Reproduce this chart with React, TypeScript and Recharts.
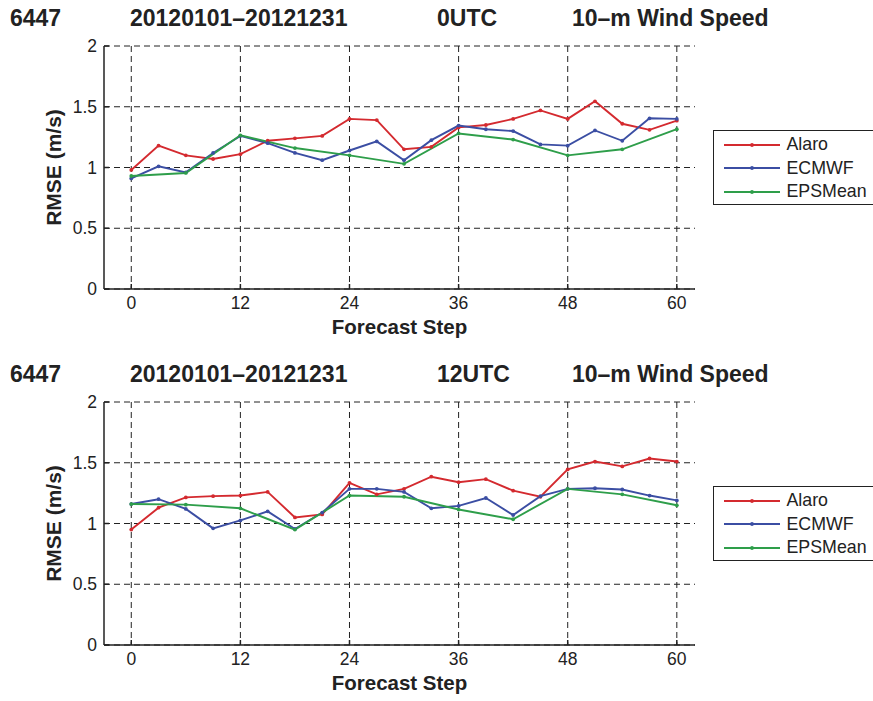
import React from 'react';
import { LineChart, Line, XAxis, YAxis, CartesianGrid } from 'recharts';

const STEPS = [0, 3, 6, 9, 12, 15, 18, 21, 24, 27, 30, 33, 36, 39, 42, 45, 48, 51, 54, 57, 60];
const X_TICKS = [0, 12, 24, 36, 48, 60];
const Y_TICKS = [0, 0.5, 1, 1.5, 2];

// 0 UTC run
const ALARO_00 = [0.98, 1.18, 1.10, 1.07, 1.11, 1.22, 1.24, 1.26, 1.40, 1.39, 1.15, 1.17, 1.33, 1.35, 1.40, 1.47, 1.40, 1.545, 1.36, 1.31, 1.385];
const ECMWF_00 = [0.91, 1.01, 0.96, 1.12, 1.26, 1.20, 1.12, 1.06, 1.14, 1.215, 1.06, 1.225, 1.345, 1.315, 1.30, 1.19, 1.18, 1.305, 1.22, 1.405, 1.40];
const EPS_00 = [0.93, 0.955, 1.265, 1.16, 1.10, 1.03, 1.28, 1.23, 1.10, 1.15, 1.315];

// 12 UTC run
const ALARO_12 = [0.95, 1.13, 1.215, 1.225, 1.23, 1.26, 1.05, 1.075, 1.335, 1.24, 1.285, 1.385, 1.34, 1.365, 1.27, 1.22, 1.445, 1.51, 1.47, 1.535, 1.51];
const ECMWF_12 = [1.16, 1.20, 1.12, 0.96, 1.025, 1.10, 0.955, 1.09, 1.285, 1.285, 1.26, 1.125, 1.145, 1.21, 1.07, 1.225, 1.285, 1.29, 1.28, 1.23, 1.19];
const EPS_12 = [1.16, 1.155, 1.125, 0.95, 1.23, 1.22, 1.115, 1.035, 1.285, 1.24, 1.15];

const SERIES = [
  { key: 'alaro', name: 'Alaro', color: '#d42a2f' },
  { key: 'ecmwf', name: 'ECMWF', color: '#3b4ea3' },
  { key: 'eps', name: 'EPSMean', color: '#2e9e4a' },
];

const FONT = '"Liberation Sans", Arial, Helvetica, sans-serif';
const INK = '#222';

const buildRows = (alaro: number[], ecmwf: number[], eps: number[]) =>
  STEPS.map((step, i) => ({
    step,
    alaro: alaro[i],
    ecmwf: ecmwf[i],
    eps: i % 2 === 0 ? eps[i / 2] : null,
  }));

const LegendBox = () => (
  <div
    style={{
      position: 'absolute',
      left: 713,
      top: 130,
      width: 175,
      height: 75,
      border: `1.5px solid ${INK}`,
      background: '#fff',
      boxSizing: 'border-box',
      fontFamily: FONT,
      fontSize: 17.8,
      color: INK,
      paddingTop: 2,
    }}
  >
    {SERIES.map((s) => (
      <div key={s.key} style={{ display: 'flex', alignItems: 'center', height: 23.5 }}>
        <svg width={63} height={10} style={{ marginLeft: 9.5, flex: 'none' }}>
          <line x1={0} y1={5} x2={56} y2={5} stroke={s.color} strokeWidth={1.8} />
          <circle cx={28} cy={5} r={1.9} fill={s.color} />
        </svg>
        <span style={{ whiteSpace: 'nowrap' }}>{s.name}</span>
      </div>
    ))}
  </div>
);

const Panel = ({ top, utc, rows }: { top: number; utc: string; rows: any[] }) => (
  <div style={{ position: 'absolute', left: 0, top, width: 873, height: 356 }}>
    <div
      style={{
        position: 'absolute',
        top: 5,
        left: 0,
        width: 873,
        fontFamily: FONT,
        fontWeight: 'bold',
        fontSize: 23,
        color: INK,
        whiteSpace: 'nowrap',
      }}
    >
      <span style={{ position: 'absolute', left: 10 }}>6447</span>
      <span style={{ position: 'absolute', left: 130 }}>20120101–20121231</span>
      <span style={{ position: 'absolute', left: 437 }}>{utc}</span>
      <span style={{ position: 'absolute', left: 572 }}>10–m Wind Speed</span>
    </div>
    <LineChart
      width={873}
      height={350}
      data={rows}
      margin={{ top: 46, right: 178, bottom: 11, left: 0 }}
      style={{ fontFamily: FONT }}
    >
      <CartesianGrid
        stroke={INK}
        strokeDasharray="6 4"
        strokeWidth={1}
        horizontalValues={Y_TICKS}
        verticalValues={X_TICKS}
      />
      <XAxis
        dataKey="step"
        type="number"
        domain={[-3, 62]}
        ticks={X_TICKS}
        height={50}
        stroke={INK}
        strokeWidth={1.5}
        tickSize={-5}
        tickMargin={13}
        tick={{ fill: INK, fontSize: 17.5 }}
        label={{
          value: 'Forecast Step',
          position: 'insideBottom',
          offset: 5,
          fill: INK,
          fontSize: 20.5,
          fontWeight: 'bold',
        }}
      />
      <XAxis
        xAxisId="top"
        orientation="top"
        type="number"
        domain={[-3, 62]}
        ticks={X_TICKS}
        height={0}
        stroke={INK}
        strokeWidth={1.5}
        tickSize={-5}
        tick={false}
      />
      <YAxis
        type="number"
        domain={[0, 2]}
        ticks={Y_TICKS}
        width={104}
        stroke={INK}
        strokeWidth={1.5}
        tickSize={-5}
        tickMargin={12}
        tick={{ fill: INK, fontSize: 17.5 }}
        tickFormatter={(v: number) => String(v)}
        label={{
          value: 'RMSE (m/s)',
          angle: -90,
          position: 'insideLeft',
          offset: 54,
          textAnchor: 'middle',
          fill: INK,
          fontSize: 21,
          fontWeight: 'bold',
        }}
      />
      <YAxis
        yAxisId="right"
        orientation="right"
        type="number"
        domain={[0, 2]}
        ticks={Y_TICKS}
        width={0}
        stroke={INK}
        strokeWidth={1.5}
        tickSize={-5}
        tick={false}
      />
      {SERIES.map((s) => (
        <Line
          key={s.key}
          dataKey={s.key}
          name={s.name}
          type="linear"
          stroke={s.color}
          strokeWidth={1.9}
          dot={{ r: 1.9, fill: s.color, stroke: s.color, strokeWidth: 0 }}
          connectNulls
          isAnimationActive={false}
        />
      ))}
    </LineChart>
    <LegendBox />
  </div>
);

export default function App() {
  return (
    <div
      style={{
        position: 'absolute',
        left: 0,
        top: 0,
        width: 873,
        height: 701,
        overflow: 'hidden',
        background: '#fff',
      }}
    >
      <Panel top={0} utc="0UTC" rows={buildRows(ALARO_00, ECMWF_00, EPS_00)} />
      <Panel top={356} utc="12UTC" rows={buildRows(ALARO_12, ECMWF_12, EPS_12)} />
    </div>
  );
}
